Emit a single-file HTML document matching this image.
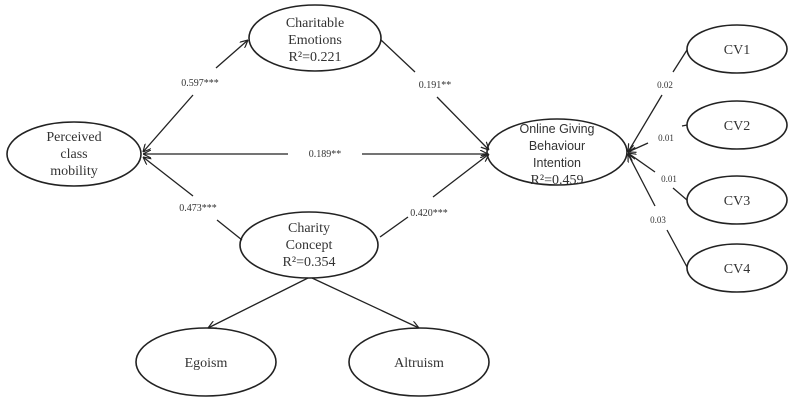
<!DOCTYPE html>
<html><head><meta charset="utf-8"><style>
body{margin:0;background:#fff}
svg{display:block}
text{font-family:"Liberation Serif",serif;fill:#333;text-anchor:middle}
.n{font-size:14px}
.l{font-size:10px}
</style></head><body>
<svg width="800" height="415" viewBox="0 0 800 415">
<defs><marker id="a" viewBox="0 0 10 10" refX="10" refY="5" markerWidth="8" markerHeight="8" orient="auto-start-reverse" markerUnits="userSpaceOnUse"><path d="M0,0 L10,5 L0,10" fill="none" stroke="#222" stroke-width="1.5"/></marker></defs>
<g fill="none" stroke="#222" stroke-width="1.6">
<ellipse cx="315" cy="38" rx="66" ry="33"/>
<ellipse cx="74" cy="154" rx="67" ry="32"/>
<ellipse cx="309" cy="245" rx="69" ry="33"/>
<ellipse cx="557" cy="152" rx="70" ry="33"/>
<ellipse cx="737" cy="49" rx="50" ry="24"/>
<ellipse cx="737" cy="125" rx="50" ry="24"/>
<ellipse cx="737" cy="200" rx="50" ry="24"/>
<ellipse cx="737" cy="268" rx="50" ry="24"/>
<ellipse cx="206" cy="362" rx="70" ry="34"/>
<ellipse cx="419" cy="362" rx="70" ry="34"/>
</g>
<g stroke="#222" stroke-width="1.3" fill="none">
<path d="M143,152 L193,95" marker-start="url(#a)"/><path d="M216,68 L248,40" marker-end="url(#a)"/>
<path d="M143,154 L288,154" marker-start="url(#a)"/><path d="M362,154 L488,154" marker-end="url(#a)"/>
<path d="M143,157 L193,196"  marker-start="url(#a)"/><path d="M217,220 L242,240"/>
<path d="M381,40 L415,72"/><path d="M437,97 L489,150" marker-end="url(#a)"/>
<path d="M380,237 L408,217"/><path d="M433,197 L489,154" marker-end="url(#a)"/>
<path d="M687,50 L673,72"/><path d="M662,95 L628,152" marker-end="url(#a)"/>
<path d="M687,125 L682,126"/><path d="M648,143 L628,152" marker-end="url(#a)"/>
<path d="M687,200 L673,188"/><path d="M655,172 L628,153" marker-end="url(#a)"/>
<path d="M687,267 L667,230"/><path d="M655,206 L628,154" marker-end="url(#a)"/>
<path d="M308,278 L208,328" marker-end="url(#a)"/>
<path d="M312,278 L419,328" marker-end="url(#a)"/>
</g>
<text class="n" x="315" y="27">Charitable</text>
<text class="n" x="315" y="44">Emotions</text>
<text class="n" x="315" y="61">R²=0.221</text>
<text class="n" x="74" y="141">Perceived</text>
<text class="n" x="74" y="158">class</text>
<text class="n" x="74" y="175">mobility</text>
<text class="n" x="309" y="232">Charity</text>
<text class="n" x="309" y="249">Concept</text>
<text class="n" x="309" y="266">R²=0.354</text>
<text class="n" x="557" y="133" style="font-family:'Liberation Sans',sans-serif;font-size:12.5px">Online Giving</text>
<text class="n" x="557" y="150" style="font-family:'Liberation Sans',sans-serif;font-size:12.5px">Behaviour</text>
<text class="n" x="557" y="167" style="font-family:'Liberation Sans',sans-serif;font-size:12.5px">Intention</text>
<text class="n" x="557" y="184">R²=0.459</text>
<text class="n" x="737" y="54">CV1</text>
<text class="n" x="737" y="130">CV2</text>
<text class="n" x="737" y="205">CV3</text>
<text class="n" x="737" y="273">CV4</text>
<text class="n" x="206" y="367">Egoism</text>
<text class="n" x="419" y="367">Altruism</text>
<text class="l" x="200" y="86">0.597***</text>
<text class="l" x="325" y="157">0.189**</text>
<text class="l" x="198" y="211">0.473***</text>
<text class="l" x="435" y="88">0.191**</text>
<text class="l" x="429" y="216">0.420***</text>
<text class="l" x="665" y="88" style="font-size:9px">0.02</text>
<text class="l" x="666" y="141" style="font-size:9px">0.01</text>
<text class="l" x="669" y="182" style="font-size:9px">0.01</text>
<text class="l" x="658" y="223" style="font-size:9px">0.03</text>
</svg>
</body></html>
